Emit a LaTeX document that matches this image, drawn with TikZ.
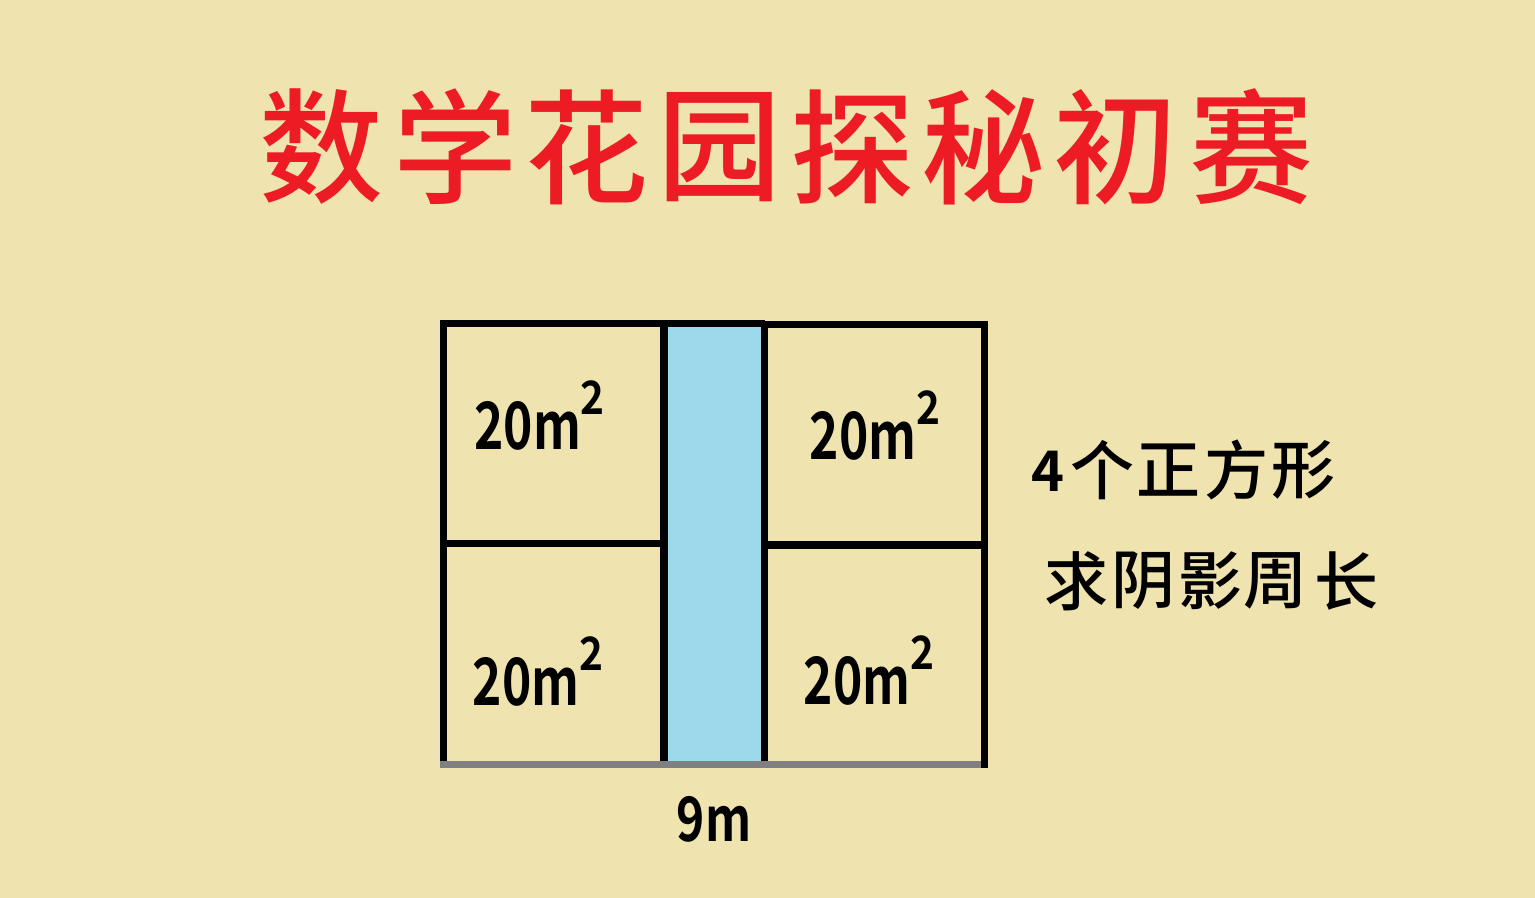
\documentclass[tikz,border=0pt]{standalone}
\usepackage{fontspec}
\usepackage{graphicx}
\setmainfont{Noto Sans CJK SC}[BoldFont={Noto Sans CJK SC Bold}]
\newfontfamily\cjkmed{Noto Sans CJK SC Medium}
\definecolor{bgcol}{RGB}{239,227,175}
\definecolor{titlered}{RGB}{237,28,36}
\definecolor{poolblue}{RGB}{156,217,235}
\definecolor{edgegray}{RGB}{128,128,128}
\newcommand\mysqtwo{\raisebox{17.5pt}{\fontsize{23}{23}\selectfont\scalebox{0.88}[1]{2}}}
\begin{document}
\begin{tikzpicture}[x=0.5pt,y=-0.5pt,
  wall/.style={line width=3.75pt,black,line join=miter},
  tchar/.style={inner sep=0pt,text=titlered,font=\cjkmed\fontsize{62}{62}\selectfont},
  qchar/.style={inner sep=0pt,text=black,font=\cjkmed\fontsize{32}{32}\selectfont},
  area/.style={inner sep=0pt,text=black,anchor=base west,font=\bfseries\fontsize{32.7}{33}\selectfont},
  dimlbl/.style={inner sep=0pt,text=black,anchor=base,font=\bfseries\fontsize{30.7}{31}\selectfont}]
\useasboundingbox (0,0) rectangle (1535,898);
\fill[bgcol] (0,0) rectangle (1535,898);
% title
\foreach \c/\x [count=\i] in {数/321,学/455,花/586,园/719,探/852,秘/983,初/1115,赛/1251}
  \node[tchar] (t\i) at (\x,147) {\c};
% shaded strip
\fill[poolblue] (663.8,323.5) rectangle (764.5,764.5);
% walls
\draw[wall] (443.7,764.5) -- (443.7,323.5) -- (764.5,323.5);
\draw[wall] (764.5,324.7) -- (984.5,324.7);
\draw[wall] (663.8,323.5) -- (663.8,764.5);
\draw[wall] (764.5,323.5) -- (764.5,764.5);
\draw[wall] (443.7,543.5) -- (663.8,543.5);
\draw[wall] (764.5,545) -- (984.5,545);
\draw[line width=3.75pt,edgegray] (440,764.5) -- (984.5,764.5);
\draw[wall] (984.5,320.95) -- (984.5,768.25);
% area labels
\node[area] (tl) at (474,449) {\scalebox{0.76}[1]{20m}\mysqtwo};
\node[area] (tr) at (809.5,459) {\scalebox{0.76}[1]{20m}\mysqtwo};
\node[area] (bl) at (472.5,705) {\scalebox{0.76}[1]{20m}\mysqtwo};
\node[area] (br) at (803.5,704.6) {\scalebox{0.76}[1]{20m}\mysqtwo};
\node[dimlbl] (nm) at (714,841.7) {\scalebox{0.78}[1]{9m}};
% question text
\node[qchar,font=\bfseries\fontsize{28}{28}\selectfont] (q1) at (1048,471.7) {4};
\foreach \c/\x [count=\i from 2] in {个/1102,正/1168,方/1236,形/1303}
  \node[qchar] (q\i) at (\x,470) {\c};
\foreach \c/\x [count=\i] in {求/1076,阴/1143,影/1210,周/1275,长/1346}
  \node[qchar] (r\i) at (\x,581) {\c};
\end{tikzpicture}
\end{document}
